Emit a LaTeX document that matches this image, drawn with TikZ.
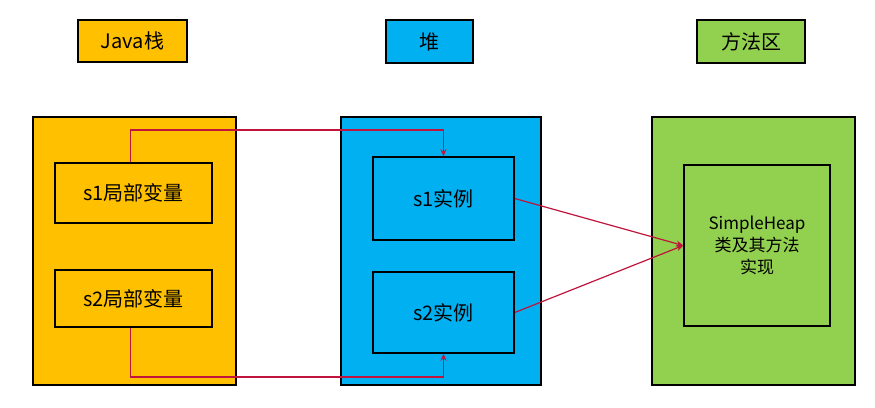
\documentclass[tikz,border=0pt]{standalone}
\usepackage{fontspec}
\setmainfont{Noto Sans CJK SC}
\usetikzlibrary{arrows.meta}
\definecolor{jorange}{HTML}{FFC000}
\definecolor{hcyan}{HTML}{00B0F0}
\definecolor{mgreen}{HTML}{92D050}
\definecolor{arr}{HTML}{C0143C}
\begin{document}
\begin{tikzpicture}[x=1pt,y=-1pt,
  box/.style={draw=black,line width=1.5pt,inner sep=0pt,font=\fontsize{20}{23}\selectfont},
  conn/.style={draw=arr,line width=1.2pt,-{Stealth[length=7pt,width=6pt]}}]
\useasboundingbox (0,0) rectangle (875,407);
% titles
\node[box,fill=jorange,minimum width=109pt,minimum height=42pt] (tj) at (132.5,41) {Java栈};
\node[box,fill=hcyan,minimum width=87pt,minimum height=43pt] (th) at (429.5,41.5) {堆};
\node[box,fill=mgreen,minimum width=108pt,minimum height=43pt] (tm) at (751,41.5) {方法区};
% big boxes
\node[box,fill=jorange,minimum width=203pt,minimum height=268pt] (js) at (134.5,251) {};
\node[box,fill=hcyan,minimum width=200pt,minimum height=268pt] (hp) at (441,251) {};
\node[box,fill=mgreen,minimum width=203pt,minimum height=268pt] (ma) at (753.5,251) {};
% inner
\node[box,minimum width=157pt,minimum height=60pt] (l1) at (133.5,193) {s1局部变量};
\node[box,minimum width=157pt,minimum height=57pt] (l2) at (133.5,298.5) {s2局部变量};
\node[box,minimum width=141pt,minimum height=83pt] (i1) at (443.5,198.5) {s1实例};
\node[box,minimum width=141pt,minimum height=81pt] (i2) at (443.5,312.5) {s2实例};
\node[box,minimum width=146pt,minimum height=161pt,align=center,font=\fontsize{17}{22}\selectfont] (sh) at (757,245.5) {SimpleHeap\\类及其方法\\实现};
% connectors
\draw[conn] (l1.north) ++(-3,0) coordinate (a1) -- (a1 |- 0,130) -| (i1.north);
\draw[conn] (l2.south) ++(-3,0) coordinate (a2) -- (a2 |- 0,377) -| (i2.south);
\draw[conn] (i1.east) -- (sh.west);
\draw[conn] (i2.east) -- (sh.west);
\end{tikzpicture}
\end{document}
